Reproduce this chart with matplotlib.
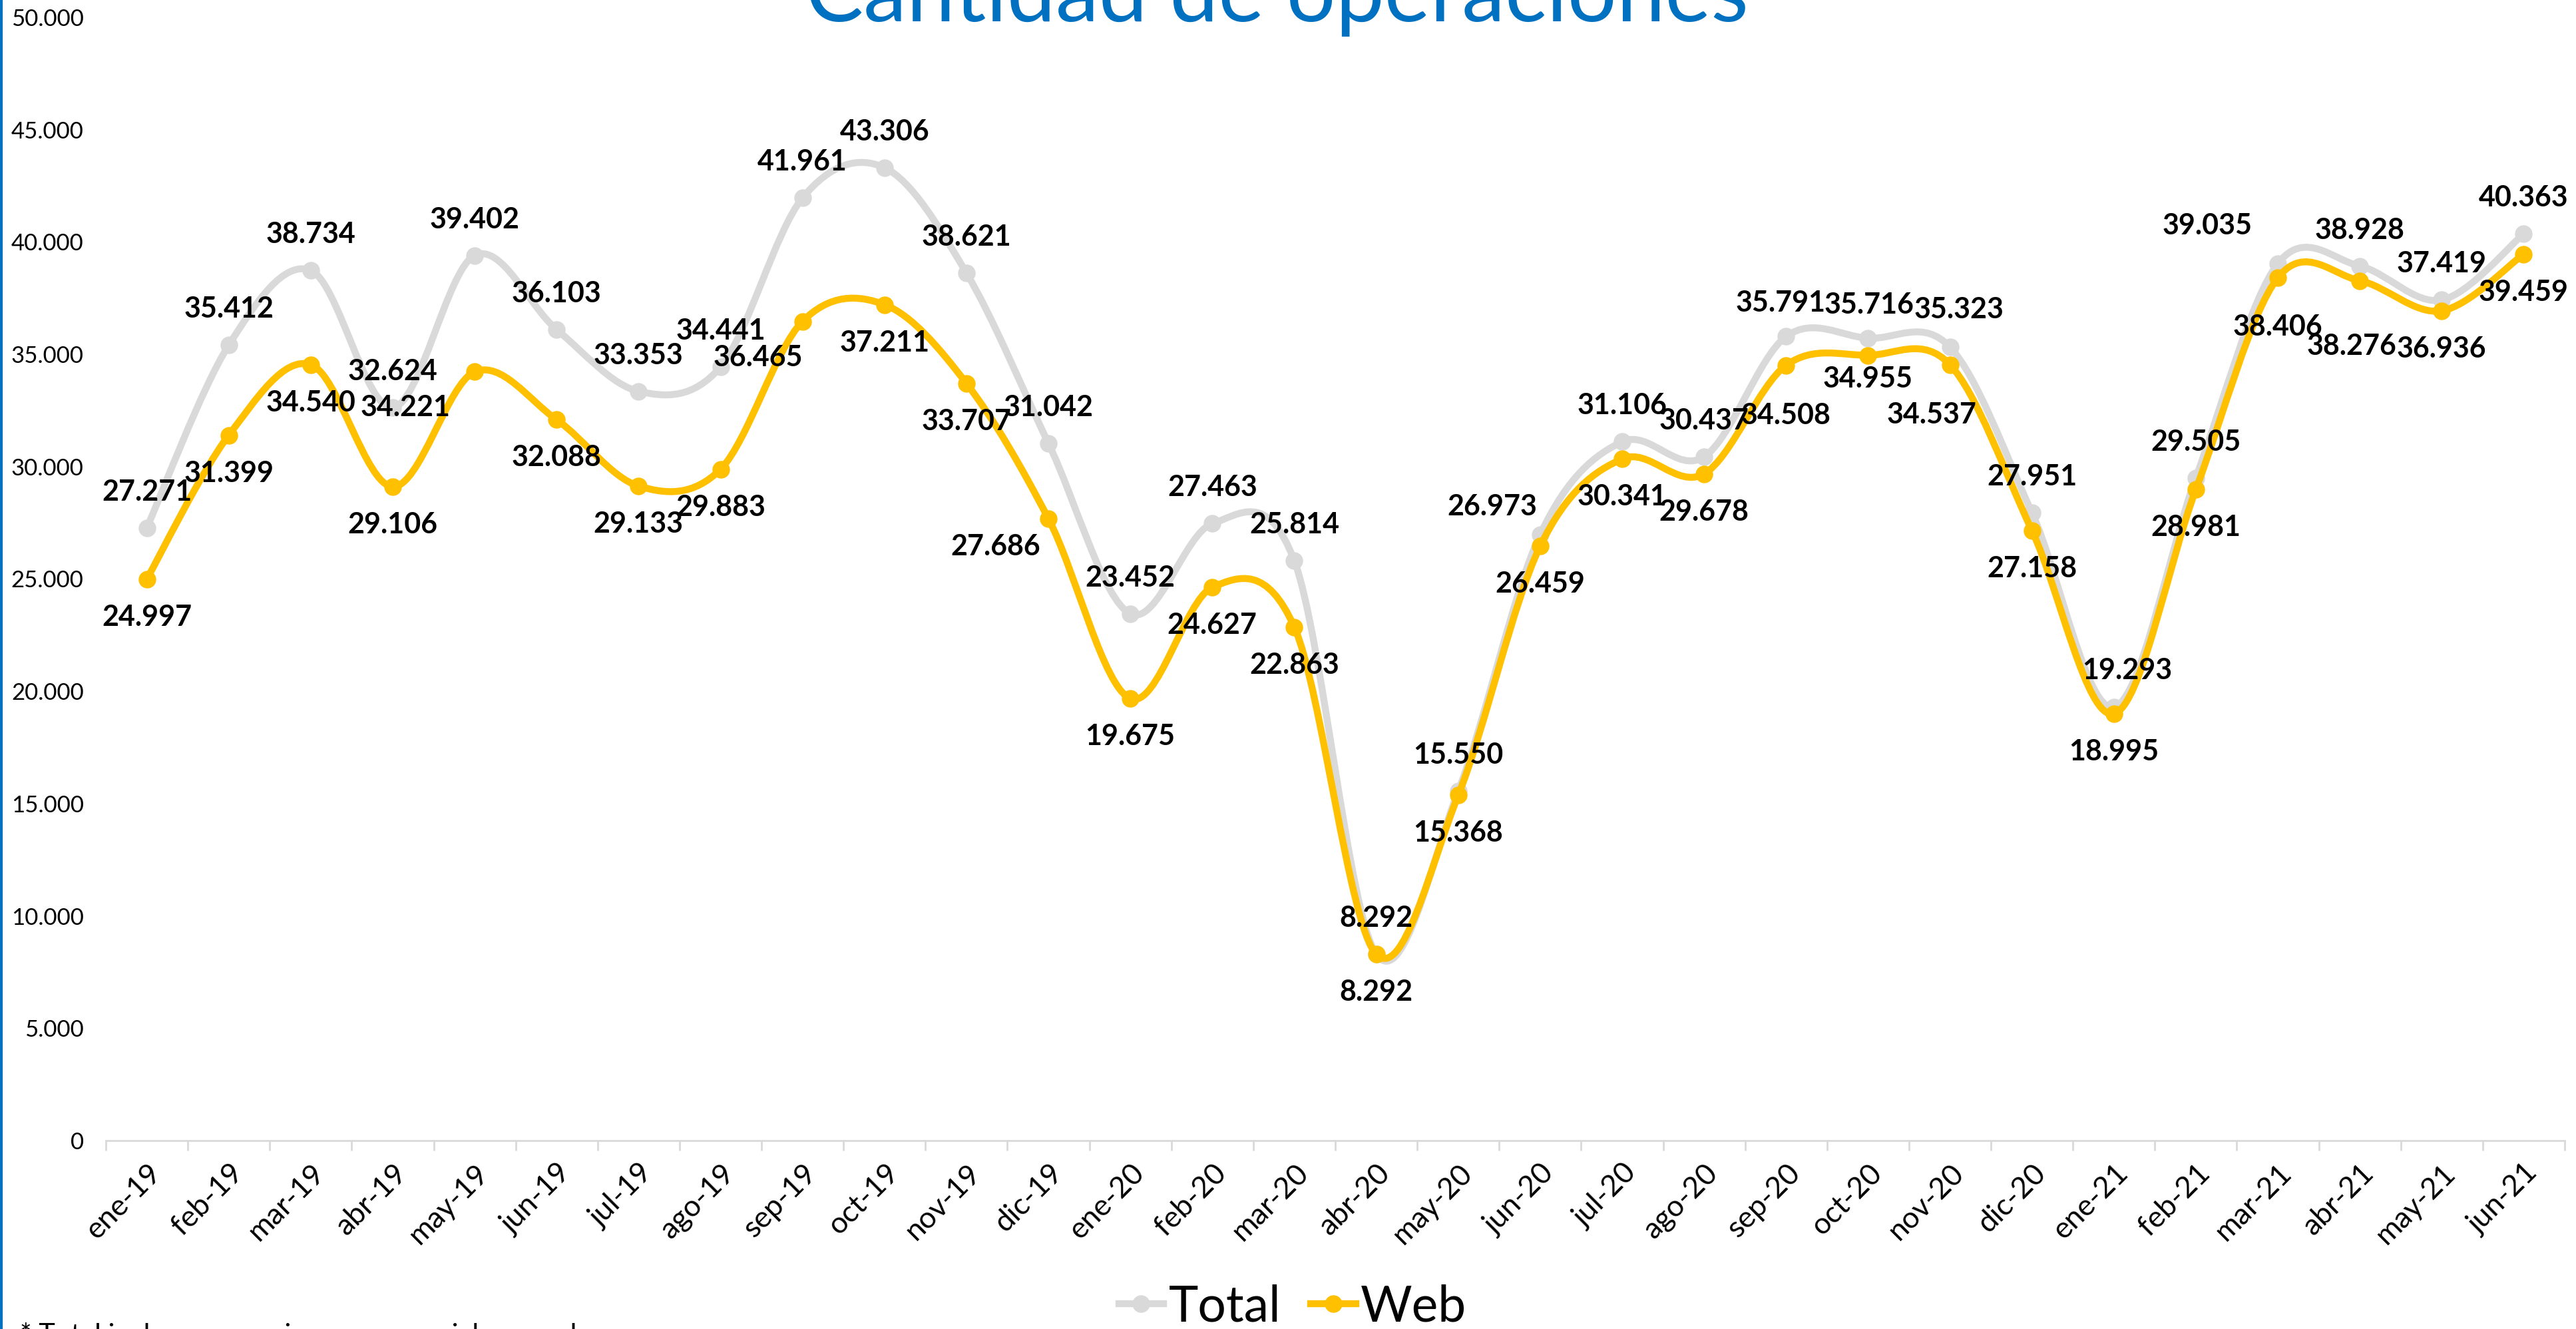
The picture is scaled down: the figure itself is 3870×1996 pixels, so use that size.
import matplotlib
matplotlib.use("Agg")
import matplotlib.pyplot as plt
import numpy as np
from matplotlib.path import Path
from matplotlib.patches import PathPatch
from matplotlib.lines import Line2D

# ---------------- data ----------------
months = ["ene-19", "feb-19", "mar-19", "abr-19", "may-19", "jun-19", "jul-19", "ago-19",
          "sep-19", "oct-19", "nov-19", "dic-19", "ene-20", "feb-20", "mar-20", "abr-20",
          "may-20", "jun-20", "jul-20", "ago-20", "sep-20", "oct-20", "nov-20", "dic-20",
          "ene-21", "feb-21", "mar-21", "abr-21", "may-21", "jun-21"]
total = [27271, 35412, 38734, 32624, 39402, 36103, 33353, 34441, 41961, 43306,
         38621, 31042, 23452, 27463, 25814, 8292, 15550, 26973, 31106, 30437,
         35791, 35716, 35323, 27951, 19293, 29505, 39035, 38928, 37419, 40363]
web = [24997, 31399, 34540, 29106, 34221, 32088, 29133, 29883, 36465, 37211,
       33707, 27686, 19675, 24627, 22863, 8292, 15368, 26459, 30341, 29678,
       34508, 34955, 34537, 27158, 18995, 28981, 38406, 38276, 36936, 39459]
yticks = list(range(0, 50001, 5000))
title = "Cantidad de operaciones"
footnote = "* Total incluye operaciones presenciales y web"

# ---------------- label offsets (pixels) ----------------
n = len(months)
tot_dx = [0] * n
tot_dy = [54] * n
web_dx = [0] * n
web_dy = [-57] * n
for i, (dx, dy) in {17: (-72, 42), 20: (-8, 50), 21: (2, 50), 22: (14, 56),
                    24: (20, 55), 26: (-106, 57)}.items():
    tot_dx[i], tot_dy[i] = dx, dy
for i, (dx, dy) in {4: (-104, -54), 8: (-67, -54), 11: (-79, -42), 20: (0, -75),
                    21: (0, -35), 22: (-27, -75), 26: (0, -74), 27: (-12, -98)}.items():
    web_dx[i], web_dy[i] = dx, dy

GRAY = "#D9D9D9"
GOLD = "#FFC000"
BLUE = "#0070C0"
FONT = ["Lato", "DejaVu Sans"]
plt.rcParams["font.family"] = FONT

W, H = 3870, 1996
fig = plt.figure(figsize=(W / 100, H / 100), dpi=100)
ax = fig.add_axes([159 / W, 1 - 1713 / H, (3853 - 159) / W, (1713 - 26) / H])

x = np.arange(n)


def smooth_path(xs, ys):
    pts = np.column_stack([xs, ys]).astype(float)
    verts = [pts[0]]
    codes = [Path.MOVETO]
    for i in range(len(pts) - 1):
        p0 = pts[i - 1] if i > 0 else pts[i]
        p1 = pts[i]
        p2 = pts[i + 1]
        p3 = pts[i + 2] if i + 2 < len(pts) else pts[i + 1]
        c1 = p1 + (p2 - p0) / 6.0
        c2 = p2 - (p3 - p1) / 6.0
        verts += [c1, c2, p2]
        codes += [Path.CURVE4] * 3
    return Path(verts, codes)


for ys, col, z in [(total, GRAY, 2), (web, GOLD, 3)]:
    patch = PathPatch(smooth_path(x, ys), facecolor="none", edgecolor=col, lw=7.5,
                      capstyle="round", joinstyle="round", zorder=z)
    ax.add_patch(patch)
    ax.plot(x, ys, linestyle="none", marker="o", ms=18, color=col, zorder=z + 0.5)


def fmt(v):
    return f"{v:,}".replace(",", ".")


for i in range(n):
    ax.annotate(fmt(total[i]), (x[i], total[i]), xytext=(tot_dx[i], tot_dy[i]),
                textcoords="offset pixels", ha="center", va="center",
                fontsize=31, fontweight="bold", color="black", zorder=5)
    ax.annotate(fmt(web[i]), (x[i], web[i]), xytext=(web_dx[i], web_dy[i]),
                textcoords="offset pixels", ha="center", va="center",
                fontsize=31, fontweight="bold", color="black", zorder=5)

ax.set_xlim(-0.5, n - 0.5)
ax.set_ylim(0, 50000)
ax.set_yticks(yticks)
ax.set_yticklabels([fmt(v) for v in yticks], fontsize=25)
ax.tick_params(axis="y", length=0, pad=24)
ax.set_xticks(x)
ax.set_xticklabels(months, fontsize=32, rotation=45, ha="right", rotation_mode="anchor")
ax.tick_params(axis="x", which="major", length=0, pad=20)
ax.set_xticks(np.arange(-0.5, n, 1.0), minor=True)
ax.tick_params(axis="x", which="minor", length=11, width=2, color=GRAY)
for s in ["top", "right", "left"]:
    ax.spines[s].set_visible(False)
ax.spines["bottom"].set_color(GRAY)
ax.spines["bottom"].set_linewidth(2)

# title (cropped at top in the reference)
fig.text(1918 / W, 1 - 32 / H, title, ha="center", va="baseline",
         fontsize=94, color=BLUE)

# legend
handles = [Line2D([0], [0], color=GRAY, lw=7.5, marker="o", ms=18),
           Line2D([0], [0], color=GOLD, lw=7.5, marker="o", ms=18)]
fig.legend(handles, ["Total", "Web"], loc="center", bbox_to_anchor=(1942 / W, 1 - 1963 / H),
           ncol=2, frameon=False, fontsize=54, handlelength=0.9, handletextpad=0.1,
           columnspacing=0.6, borderpad=0, borderaxespad=0)

# footnote (mostly cropped, as in the reference)
fig.text(30 / W, 1 - 2018 / H, footnote, ha="left", va="baseline", fontsize=30)

# blue left border
fig.add_artist(Line2D([2 / W, 2 / W], [0, 1], color=BLUE, lw=3, transform=fig.transFigure))

fig.savefig("out.png", dpi=100)
